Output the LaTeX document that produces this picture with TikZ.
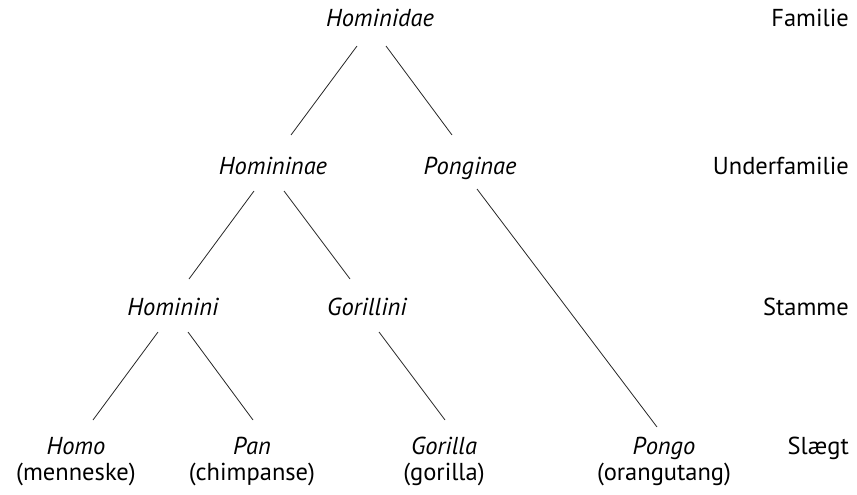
\documentclass[tikz,border=0pt]{standalone}
\usepackage{fontspec}
\setmainfont{PT Sans}
\begin{document}
\begin{tikzpicture}[x=1pt,y=-1pt,
  taxon/.style={inner sep=0pt,anchor=base,font=\fontsize{24.5}{26}\selectfont\itshape},
  genus/.style={inner sep=0pt,anchor=base,align=center,font=\fontsize{24.5}{26}\selectfont},
  rank/.style={inner sep=0pt,anchor=base east,font=\fontsize{24.5}{26}\selectfont},
  branch/.style={line width=0.8pt,black!85}]
\useasboundingbox (0,0) rectangle (857,495);

% taxa
\node[taxon] (hominidae) at (380,27) {Hominidae};
\node[taxon] (homininae) at (273,174) {Homininae};
\node[taxon] (ponginae)  at (470,174) {Ponginae};
\node[taxon] (hominini)  at (173,315) {Hominini};
\node[taxon] (gorillini) at (367,315) {Gorillini};

% genera with common names (base = second line)
\node[genus] (homo)    at (76,480)  {\textit{Homo}\\(menneske)};
\node[genus] (pan)     at (252,480) {\textit{Pan}\\(chimpanse)};
\node[genus] (gorilla) at (444,480) {\textit{Gorilla}\\(gorilla)};
\node[genus] (pongo)   at (664,480) {\textit{Pongo}\\(orangutang)};

% rank labels
\node[rank] (r1) at (849,27)  {Familie};
\node[rank] (r2) at (849,174) {Underfamilie};
\node[rank] (r3) at (849,315) {Stamme};
\node[rank] (r4) at (849,454) {Slægt};

% branches
\draw[branch] ([xshift=-23pt,yshift=-19pt]hominidae.base) -- ([xshift=18pt,yshift=39pt]homininae.base);
\draw[branch] ([xshift=6pt,yshift=-19pt]hominidae.base) -- ([xshift=-18pt,yshift=39pt]ponginae.base);
\draw[branch] ([xshift=-19pt,yshift=-17pt]homininae.base) -- ([xshift=16pt,yshift=36pt]hominini.base);
\draw[branch] ([xshift=11pt,yshift=-17pt]homininae.base) -- ([xshift=-17pt,yshift=36pt]gorillini.base);
\draw[branch] ([xshift=7pt,yshift=-15pt]ponginae.base) -- ([xshift=-7pt,yshift=53pt]pongo.base);
\draw[branch] ([xshift=-15pt,yshift=-17pt]hominini.base) -- ([xshift=17pt,yshift=60pt]homo.base);
\draw[branch] ([xshift=15pt,yshift=-17pt]hominini.base) -- ([xshift=1pt,yshift=60pt]pan.base);
\draw[branch] ([xshift=12pt,yshift=-17pt]gorillini.base) -- ([xshift=1pt,yshift=60pt]gorilla.base);
\end{tikzpicture}
\end{document}
